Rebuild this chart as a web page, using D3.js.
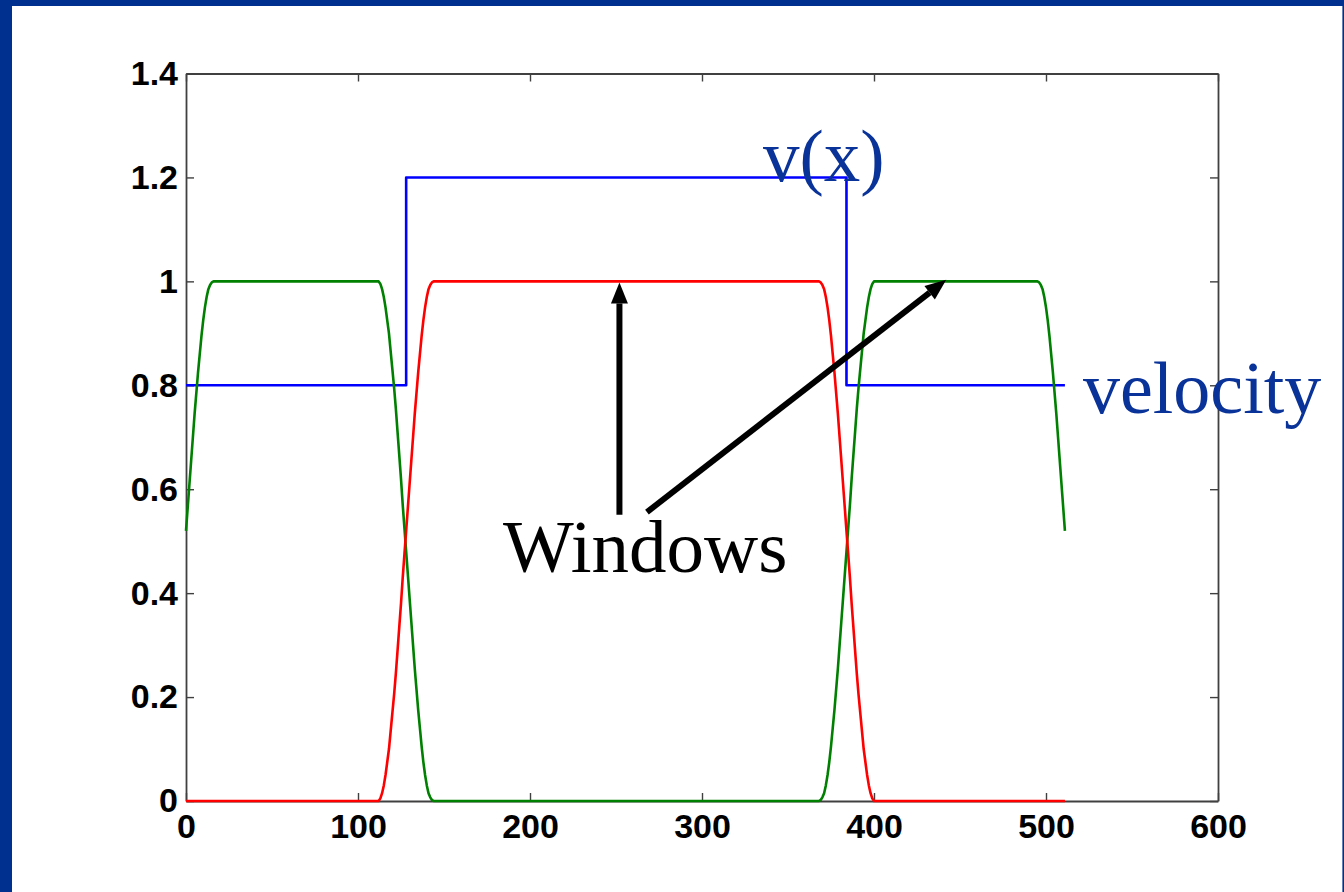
<!DOCTYPE html>
<html>
<head>
<meta charset="utf-8">
<script src="https://cdn.jsdelivr.net/npm/d3@7"></script>
<style>
  html, body { margin: 0; padding: 0; background: #ffffff; }
  svg { display: block; }
</style>
</head>
<body>
<script>
// Axis ticks
const xTicks = [0, 100, 200, 300, 400, 500, 600];
const yTicks = [0, 0.2, 0.4, 0.6, 0.8, 1, 1.2, 1.4];
const yTickLabels = ["0", "0.2", "0.4", "0.6", "0.8", "1", "1.2", "1.4"];

// Grid size of the sampled signals (sample index 0 .. 511)
const sampleCount = 512;

// Rising edge of a window, one value per sample across the transition
const taperRise = [
  0.000, 0.005, 0.015, 0.030, 0.050, 0.075, 0.100, 0.135, 0.170, 0.205, 0.245,
  0.290, 0.335, 0.380, 0.430, 0.475, 0.520, 0.565, 0.610, 0.655, 0.700, 0.745,
  0.785, 0.825, 0.860, 0.895, 0.925, 0.950, 0.970, 0.985, 0.993, 0.998, 1.000
];

// Interfaces where the medium changes (sample index)
const interfaces = [128, 384];

// Velocity model: levels between breakpoints
const velocityBreaks = [0, 128, 384, 512];
const velocityLevels = [0.8, 1.2, 0.8];

// Annotations (data coordinates)
const arrows = [
  { from: [252, 0.551], to: [252, 0.998] },
  { from: [268, 0.556], to: [442, 1.003] }
];
const labels = [
  { text: "v(x)", x: 335.5, y: 1.193, color: "#0a3399", size: 73 },
  { text: "velocity", x: 521.5, y: 0.747, color: "#0a3399", size: 74 },
  { text: "Windows", x: 184.3, y: 0.441, color: "#000000", size: 75 }
];

// ---- build the sampled curves ----
const half = (taperRise.length - 1) / 2;           // 16 samples
const idx = d3.range(sampleCount);

const velocity = idx.map(i => {
  let k = 0;
  while (i >= velocityBreaks[k + 1]) k++;
  return velocityLevels[k];
});

const riseStart = interfaces[0] - half;              // 112
const fallEnd = interfaces[1] + half;                // 400
const redWindow = idx.map(i => {
  if (i < riseStart) return 0;
  if (i <= interfaces[0] + half) return taperRise[i - riseStart];
  if (i < interfaces[1] - half) return 1;
  if (i <= fallEnd) return taperRise[fallEnd - i];
  return 0;
});

// The outer window wraps around the ends of the grid
const greenWindow = idx.map(i => {
  if (i <= half) return taperRise[i + half];
  if (i >= sampleCount - 1 - half) return taperRise[sampleCount - 1 + half - i];
  return 1 - redWindow[i];
});

// ---- layout ----
const W = 1344, H = 892;
const plot = { left: 186, right: 1218, top: 73.5, bottom: 801 };

const svg = d3.select("body").append("svg")
  .attr("width", W).attr("height", H);

svg.append("rect").attr("width", W).attr("height", H).attr("fill", "#ffffff");

// Slide frame
const frameBlue = "#00308f";
svg.append("rect").attr("x", 0).attr("y", 0).attr("width", 12).attr("height", H).attr("fill", frameBlue);
svg.append("rect").attr("x", 0).attr("y", 0).attr("width", W).attr("height", 6).attr("fill", frameBlue);
svg.append("rect").attr("x", W - 1.6).attr("y", 0).attr("width", 1.6).attr("height", H).attr("fill", frameBlue);

const x = d3.scaleLinear().domain([0, 600]).range([plot.left, plot.right]);
const y = d3.scaleLinear().domain([0, 1.4]).range([plot.bottom, plot.top]);

const axisColor = "#404040";
const tickLen = 8;
const tickFont = "bold 34px 'Liberation Sans', Arial, Helvetica, sans-serif";

// Axes with inward ticks on all four sides
const gAxes = svg.append("g");
const styleAxis = g => {
  g.select(".domain").attr("stroke", axisColor).attr("stroke-width", 1.8);
  g.selectAll(".tick line").attr("stroke", axisColor).attr("stroke-width", 1.4);
  g.selectAll(".tick text").attr("fill", "#000").style("font", tickFont);
};

gAxes.append("g")
  .attr("transform", `translate(0,${plot.bottom})`)
  .call(d3.axisBottom(x).tickValues(xTicks).tickFormat(d3.format("d"))
    .tickSizeInner(-tickLen).tickSizeOuter(0).tickPadding(13))
  .call(styleAxis)
  .call(g => g.selectAll(".tick text").attr("dy", "0.71em"));

gAxes.append("g")
  .attr("transform", `translate(0,${plot.top})`)
  .call(d3.axisTop(x).tickValues(xTicks).tickFormat("")
    .tickSizeInner(-tickLen).tickSizeOuter(0))
  .call(styleAxis);

gAxes.append("g")
  .attr("transform", `translate(${plot.left},0)`)
  .call(d3.axisLeft(y).tickValues(yTicks).tickFormat((d, i) => yTickLabels[i])
    .tickSizeInner(-tickLen).tickSizeOuter(0).tickPadding(8))
  .call(styleAxis);

gAxes.append("g")
  .attr("transform", `translate(${plot.right},0)`)
  .call(d3.axisRight(y).tickValues(yTicks).tickFormat("")
    .tickSizeInner(-tickLen).tickSizeOuter(0))
  .call(styleAxis);

// ---- curves ----
const lineLin = d3.line().x((d, i) => x(i)).y(d => y(d));
const lineStep = d3.line().x((d, i) => x(i)).y(d => y(d)).curve(d3.curveStepAfter);

const gLines = svg.append("g").attr("fill", "none").attr("stroke-width", 2.6)
  .attr("stroke-linejoin", "round");
gLines.append("path").datum(velocity).attr("d", lineStep).attr("stroke", "#0000ff");
gLines.append("path").datum(greenWindow).attr("d", lineLin).attr("stroke", "#008000");
gLines.append("path").datum(redWindow).attr("d", lineLin).attr("stroke", "#ff0000");

// ---- annotations ----
const gAnn = svg.append("g");
arrows.forEach(a => {
  const x0 = x(a.from[0]), y0 = y(a.from[1]);
  const x1 = x(a.to[0]), y1 = y(a.to[1]);
  const ang = Math.atan2(y1 - y0, x1 - x0);
  const headLen = 21, headHalf = 8.5;
  const bx = x1 - headLen * Math.cos(ang), by = y1 - headLen * Math.sin(ang);
  gAnn.append("line")
    .attr("x1", x0).attr("y1", y0).attr("x2", bx).attr("y2", by)
    .attr("stroke", "#000").attr("stroke-width", 6);
  const px = -Math.sin(ang), py = Math.cos(ang);
  gAnn.append("polygon")
    .attr("points", [
      [x1, y1],
      [bx + px * headHalf, by + py * headHalf],
      [bx - px * headHalf, by - py * headHalf]
    ].map(p => p.join(",")).join(" "))
    .attr("fill", "#000");
});

labels.forEach(l => {
  gAnn.append("text")
    .attr("x", x(l.x)).attr("y", y(l.y))
    .attr("fill", l.color)
    .style("font", `${l.size}px 'Liberation Serif', 'Times New Roman', serif`)
    .text(l.text);
});
</script>
</body>
</html>
